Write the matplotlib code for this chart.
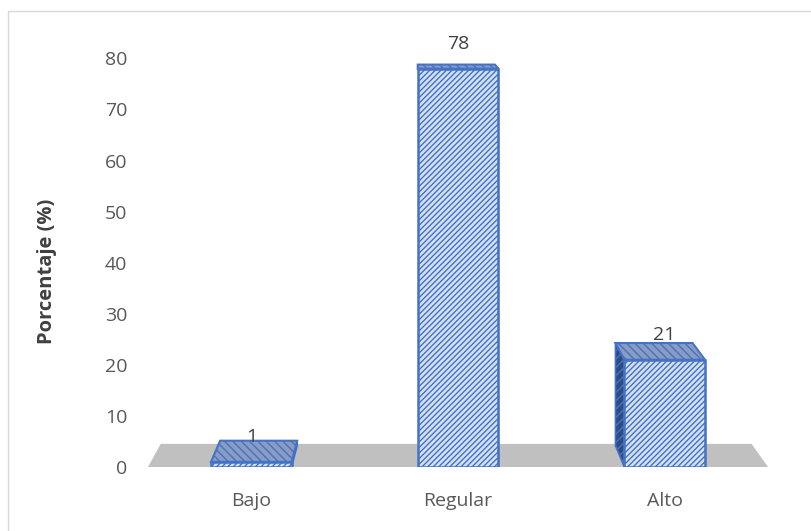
import matplotlib.pyplot as plt
from matplotlib.patches import Polygon, Rectangle

categorias = ['Bajo', 'Regular', 'Alto']
porcentajes = [1, 78, 21]
yticks = [0, 10, 20, 30, 40, 50, 60, 70, 80]

plt.rcParams['font.family'] = ['Open Sans', 'DejaVu Sans']
plt.rcParams['hatch.linewidth'] = 1.0

W, H = 811, 531
fig = plt.figure(figsize=(W / 100, H / 100), dpi=100)
ax = fig.add_axes([148 / W, 64 / H, 620 / W, 429 / H])
ax.set_xlim(-0.5, 2.5)
ax.set_ylim(0, 84)

# vanishing point and depth factor for the fake 3D look
vx, vy = 0.814, 96.3
k = 0.0435
ancho = 0.39


def atras(x, y, f=k):
    return (x + f * (vx - x), y + f * (vy - y))


# floor
piso = [(-0.5, 0), (2.5, 0), atras(2.5, 0, 0.047), atras(-0.5, 0, 0.047)]
ax.add_patch(Polygon(piso, closed=True, facecolor='#c0c0c0', edgecolor='none', zorder=1))

borde = '#4472c4'
for i, v in enumerate(porcentajes):
    x0, x1 = i - ancho / 2, i + ancho / 2
    # side face, whichever is visible
    if x0 > vx:
        lado = [(x0, 0), (x0, v), atras(x0, v), atras(x0, 0)]
    else:
        lado = [(x1, 0), (x1, v), atras(x1, v), atras(x1, 0)]
    ax.add_patch(Polygon(lado, closed=True, facecolor='#2f4a80', edgecolor=borde,
                         hatch='////', lw=1.2, zorder=2))
    # top face
    tapa = [(x0, v), (x1, v), atras(x1, v), atras(x0, v)]
    ax.add_patch(Polygon(tapa, closed=True, facecolor='#8a9cc2', edgecolor=borde,
                         hatch='\\\\\\\\', lw=1.5, zorder=3))
    # front face
    ax.add_patch(Rectangle((x0, 0), ancho, v, facecolor='#d4e0f6', edgecolor=borde,
                           hatch='//////', lw=1.8, zorder=4))
    ax.text(i, v + 4.9, str(v), ha='center', va='center',
            fontsize=14, color='#404040', zorder=5)

ax.set_xticks(range(len(categorias)))
ax.set_xticklabels(categorias)
ax.set_yticks(yticks)
ax.tick_params(axis='both', length=0, labelsize=14, colors='#595959')
ax.tick_params(axis='x', pad=18)
ax.tick_params(axis='y', pad=15)
for s in ax.spines.values():
    s.set_visible(False)
ax.set_ylabel('Porcentaje (%)', fontsize=14.5, fontweight='bold', color='#404040')
ax.yaxis.set_label_coords(-0.147, 0.455)

fig.add_artist(Rectangle((8 / W, -0.01), 1.0, 1 - 11 / H + 0.01, transform=fig.transFigure,
                         fill=False, edgecolor='#d9d9d9', lw=1))

fig.savefig('out.png', dpi=100)
